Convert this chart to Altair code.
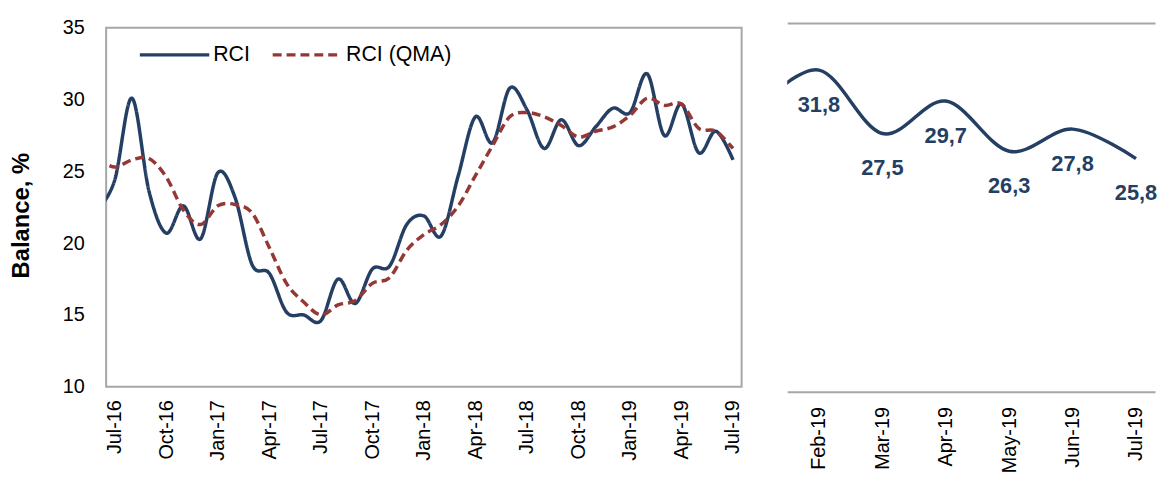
import altair as alt
import pandas as pd

# ---------------- data ----------------
months = ["Jun-16", "Jul-16", "Aug-16", "Sep-16", "Oct-16", "Nov-16", "Dec-16",
          "Jan-17", "Feb-17", "Mar-17", "Apr-17", "May-17", "Jun-17", "Jul-17",
          "Aug-17", "Sep-17", "Oct-17", "Nov-17", "Dec-17",
          "Jan-18", "Feb-18", "Mar-18", "Apr-18", "May-18", "Jun-18", "Jul-18",
          "Aug-18", "Sep-18", "Oct-18", "Nov-18", "Dec-18",
          "Jan-19", "Feb-19", "Mar-19", "Apr-19", "May-19", "Jun-19", "Jul-19"]

rci = [22.3, 24.4, 30.1, 23.6, 20.7, 22.6, 20.3,
       24.9, 23.2, 18.5, 17.9, 15.2, 15.0, 14.6,
       17.5, 15.8, 18.2, 18.4, 21.3,
       21.9, 20.5, 24.7, 28.8, 27.0, 30.8, 29.3,
       26.6, 28.6, 26.8, 28.1, 29.4,
       29.1, 31.8, 27.5, 29.7, 26.3, 27.8, 25.8]

rci_qma = [25.9, 25.3, 25.8, 25.9, 24.6, 22.3, 21.3,
           22.6, 22.7, 22.1, 19.7, 17.2, 15.9, 15.0,
           15.7, 16.0, 17.2, 17.6, 19.5,
           20.6, 21.3, 22.6, 24.7, 26.8, 28.8, 29.1,
           28.8, 28.2, 27.4, 27.8, 28.1,
           28.9, 30.1, 29.6, 29.7, 28.0, 27.8, 26.6]

tick_months = ["Jul-16", "Oct-16", "Jan-17", "Apr-17", "Jul-17", "Oct-17", "Jan-18",
               "Apr-18", "Jul-18", "Oct-18", "Jan-19", "Apr-19", "Jul-19"]

zoom_months = ["Jan-19", "Feb-19", "Mar-19", "Apr-19", "May-19", "Jun-19", "Jul-19"]
zoom_labelled = ["Feb-19", "Mar-19", "Apr-19", "May-19", "Jun-19", "Jul-19"]

series_names = ["RCI", "RCI (QMA)"]
y_ticks = [10, 15, 20, 25, 30, 35]

# ---------------- styles ----------------
NAVY = "#243F63"
RED = "#953735"
FRAME = "#A6A6A6"
FONT = "Liberation Sans"

# ---------------- tables ----------------
pos = {m: k - 1 for k, m in enumerate(months)}          # Jul-16 -> 0
left_df = pd.DataFrame({
    "i": [pos[m] for m in months] * 2,
    "month": months * 2,
    "value": rci + rci_qma,
    "series": [series_names[0]] * len(months) + [series_names[1]] * len(months),
})

rci_by_month = dict(zip(months, rci))
zpos = {m: k - 1 for k, m in enumerate(zoom_months)}     # Feb-19 -> 0
zoom_df = pd.DataFrame({
    "i": [zpos[m] for m in zoom_months],
    "month": zoom_months,
    "value": [rci_by_month[m] for m in zoom_months],
})
lab_df = pd.DataFrame({
    "i": [zpos[m] for m in zoom_labelled],
    "value": [rci_by_month[m] for m in zoom_labelled],
    "label": [f"{rci_by_month[m]:.1f}".replace(".", ",") for m in zoom_labelled],
})

left_expr = "[" + ",".join(f"'{m}'" for m in months) + "][datum.value + 1]"
right_expr = "[" + ",".join(f"'{m}'" for m in zoom_months) + "][datum.value + 1]"

legend_opts = dict(title=None, orient="none", legendX=32, legendY=-5,
                   direction="horizontal", symbolType="stroke",
                   symbolSize=4900, symbolStrokeWidth=3.5,
                   labelFontSize=21.5, labelFont=FONT, labelColor="black",
                   labelOffset=2, columnPadding=15, padding=0)

# ---------------- left panel ----------------
left = alt.Chart(left_df).mark_line(
    interpolate="cardinal", tension=0, strokeWidth=3.5, clip=True
).encode(
    x=alt.X("i:Q",
            scale=alt.Scale(domain=[-0.5, 36.5], nice=False, zero=False),
            axis=alt.Axis(values=[pos[m] for m in tick_months], labelExpr=left_expr,
                          labelAngle=270, ticks=False, tickSize=0, grid=False, domain=False,
                          labelPadding=13, labelFontSize=20, labelFont=FONT,
                          labelColor="black", title=None)),
    y=alt.Y("value:Q",
            scale=alt.Scale(domain=[10, 35], nice=False, zero=False),
            axis=alt.Axis(values=y_ticks, ticks=False, tickSize=0, grid=False, domain=False,
                          labelPadding=22, labelFontSize=20, labelFont=FONT,
                          labelColor="black", title="Balance, %", titleFont=FONT,
                          titleFontSize=24, titleFontWeight="bold", titleColor="black",
                          titlePadding=29, titleY=189)),
    color=alt.Color("series:N",
                    scale=alt.Scale(domain=series_names, range=[NAVY, RED]),
                    legend=alt.Legend(**legend_opts)),
    strokeDash=alt.StrokeDash("series:N",
                              scale=alt.Scale(domain=series_names, range=[[1, 0], [9, 5]]),
                              legend=alt.Legend(**legend_opts)),
).properties(width=641, height=362,
             view=alt.ViewBackground(stroke=FRAME, strokeWidth=2))

# small blank band that drops the left panel 5px below the right one
spacer = alt.Chart(pd.DataFrame({"s": [0]})).mark_point(opacity=0).properties(
    width=641, height=5)

left_col = alt.vconcat(spacer, left, spacing=0, bounds="flush")

# ---------------- right panel ----------------
xscale_r = alt.Scale(domain=[-0.5, 5.3], nice=False, zero=False)
yscale_r = alt.Scale(domain=[10, 35], nice=False, zero=False)

right_line = alt.Chart(zoom_df).mark_line(
    interpolate="cardinal", tension=0, strokeWidth=3.5, color=NAVY, clip=True
).encode(
    x=alt.X("i:Q", scale=xscale_r,
            axis=alt.Axis(values=[zpos[m] for m in zoom_labelled], labelExpr=right_expr,
                          labelAngle=270, ticks=False, tickSize=0, grid=False, domain=True,
                          domainColor=FRAME, domainWidth=2, labelPadding=15,
                          labelFontSize=20, labelFont=FONT, labelColor="black", title=None)),
    y=alt.Y("value:Q", scale=yscale_r,
            axis=alt.Axis(labels=False, ticks=False, tickSize=0, grid=False, domain=True,
                          domainColor=FRAME, domainWidth=2, title=None)),
)

right_text = alt.Chart(lab_df).mark_text(
    dy=35, fontSize=22, fontWeight="bold", color=NAVY, font=FONT, baseline="middle"
).encode(
    x=alt.X("i:Q", scale=xscale_r,
            axis=alt.Axis(orient="top", labels=False, ticks=False, tickSize=0, grid=False,
                          domain=True, domainColor=FRAME, domainWidth=2, title=None)),
    y=alt.Y("value:Q", scale=yscale_r, axis=None),
    text="label:N",
)

right = alt.layer(right_line, right_text).resolve_axis(x="independent").properties(
    width=371, height=372)

chart = alt.hconcat(left_col, right, spacing=42).properties(
    padding={"left": 0, "top": 7, "right": 0, "bottom": 0}
).configure_view(stroke="transparent")

chart.save("out.html", embed_options={"renderer": "svg", "actions": False})
